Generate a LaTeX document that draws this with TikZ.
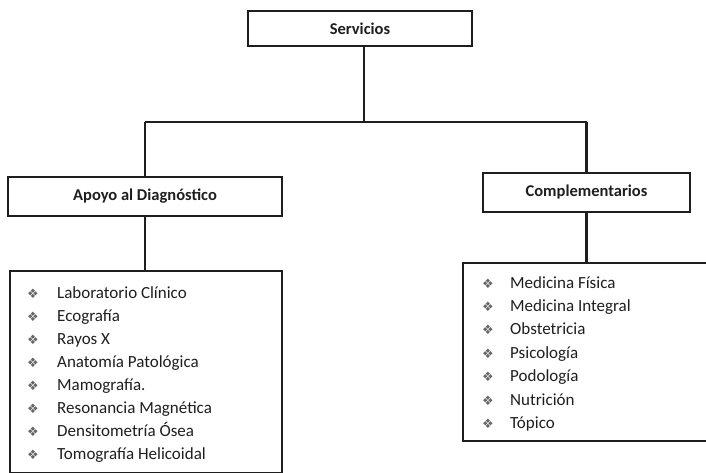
\documentclass[tikz,border=0pt]{standalone}
\usepackage{fontspec}
\setmainfont{Carlito}
\newfontfamily\symfont{DejaVu Sans}
\definecolor{ink}{HTML}{1E1E1E}
\newcommand{\bul}{{\symfont\fontsize{13}{13}\selectfont\color{black!60}❖}}
\tikzset{
	headbox/.style={draw=ink, line width=1.6pt, inner sep=0pt, text=ink,
		font=\fontsize{16.5}{19}\selectfont\bfseries},
	listbox/.style={draw=ink, line width=1.3pt, inner sep=0pt},
	conn/.style={draw=ink, line width=2.4pt},
	item/.style={anchor=base west, inner sep=0pt, text=ink,
		font=\fontsize{17}{20}\selectfont}
}
\begin{document}
	\begin{tikzpicture}[x=1pt,y=-1pt]
		
		\useasboundingbox (0,0) rectangle (706,473);
		
		% cajas principales
		\node[headbox, minimum width=224pt, minimum height=35pt] (serv) at (360,28.5) {Servicios};
		\node[headbox, minimum width=274pt, minimum height=39pt] (apoyo) at (145,196.5) {Apoyo al Diagnóstico};
		\node[headbox, minimum width=207pt, minimum height=39pt] (compl) at (586.5,192.5) {Complementarios};
		
		% listas
		\node[listbox, minimum width=272pt, minimum height=202pt] (listA) at (146,372) {};
		\node[listbox, minimum width=245pt, minimum height=178pt] (listC) at (585.5,352) {};
		
		
		% conectores
		\coordinate (jS) at (364,122);
		\coordinate (jA) at (apoyo.north |- jS);
		\coordinate (jC) at (compl.north |- jS);
		\draw[conn] (serv.south -| jS) -- (jS);
		\draw[conn] (jA) -- (jC);
		\draw[conn] (jA) -- (apoyo.north);
		\draw[conn] (jC) -- (compl.north);
		\draw[conn] (apoyo.south) -- (listA.north -| apoyo.south);
		\draw[conn] (compl.south) -- (listC.north -| compl.south);
		
		
		\foreach \t [count=\i from 0] in {Laboratorio Clínico, Ecografía, Rayos X,
			Anatomía Patológica, Mamografía., Resonancia Magnética,
			Densitometría Ósea, Tomografía Helicoidal}
		\node[item] (a\i) at (27,298+23*\i) {\makebox[30pt][l]{\bul}\t};
		
		\foreach \t [count=\i from 0] in {Medicina Física, Medicina Integral,
			Obstetricia, Psicología, Podología, Nutrición, Tópico}
		\node[item] (c\i) at (482,288+23.4*\i) {\makebox[28pt][l]{\bul}\t};
		
	\end{tikzpicture}
\end{document}
